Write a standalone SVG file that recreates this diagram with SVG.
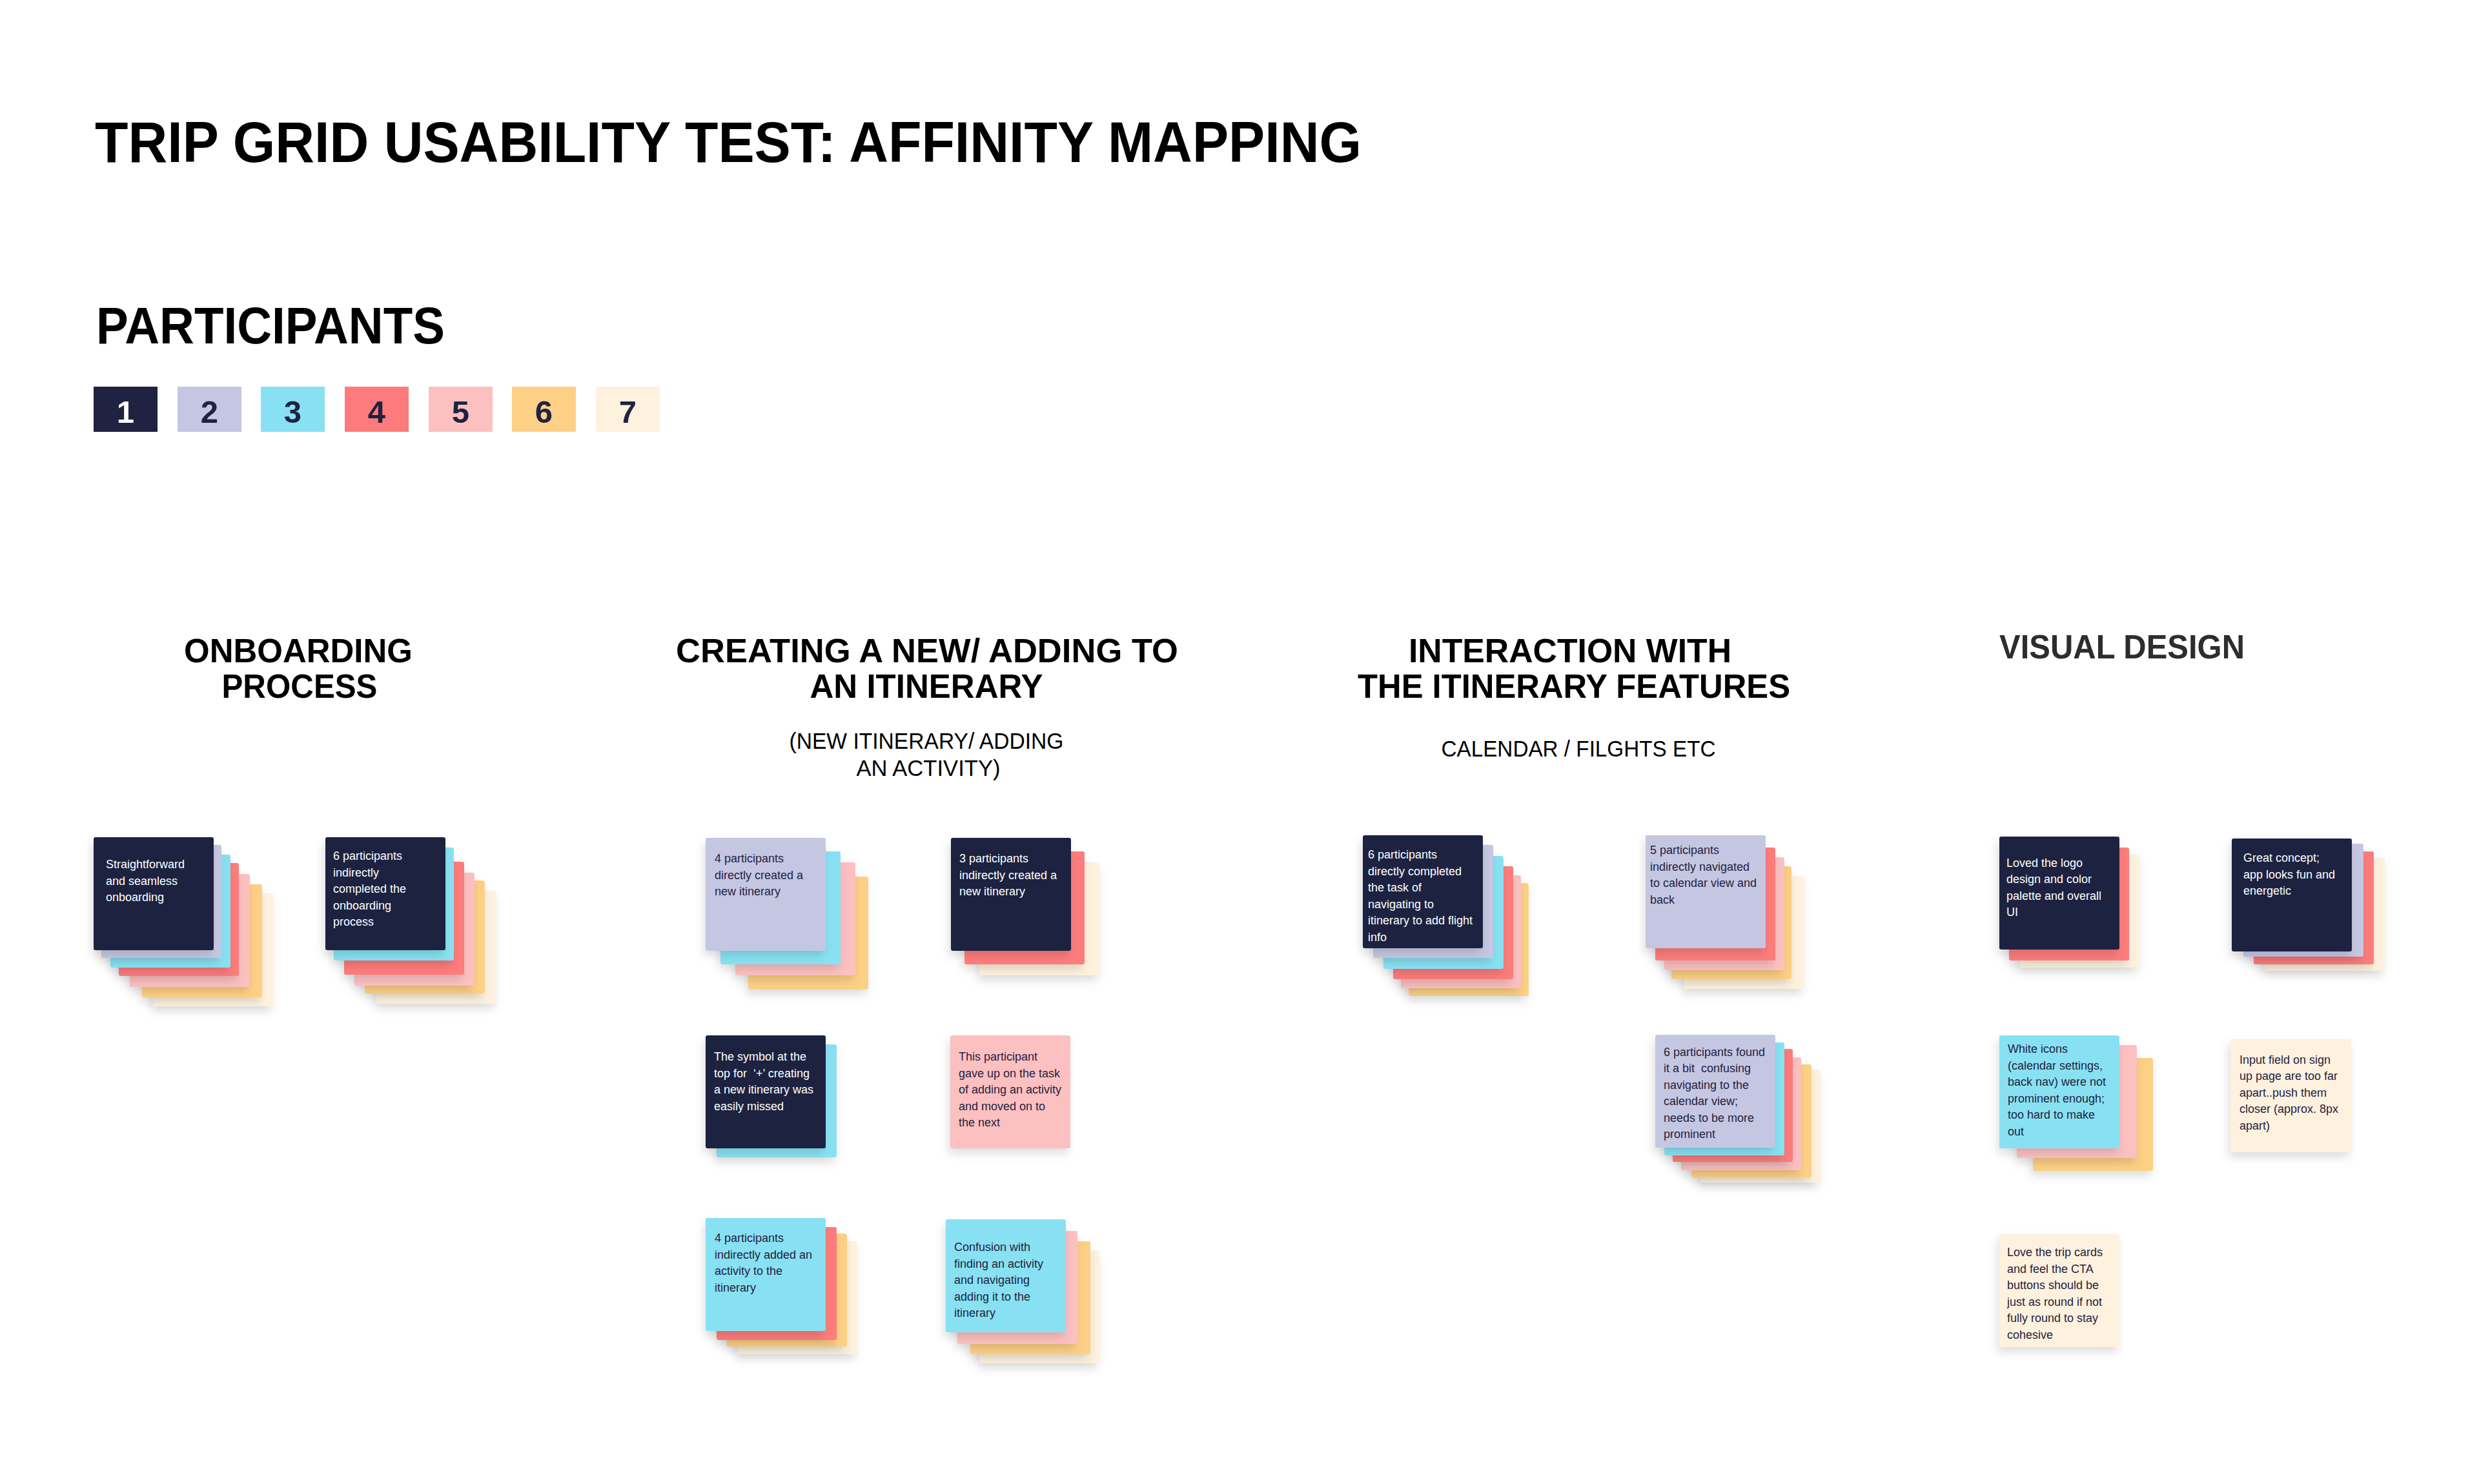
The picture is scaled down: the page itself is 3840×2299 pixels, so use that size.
<svg xmlns="http://www.w3.org/2000/svg" width="3840" height="2299" viewBox="0 0 3840 2299">
<defs>
<filter id="sh" x="-20%" y="-20%" width="150%" height="160%">
<feDropShadow dx="-3" dy="8" stdDeviation="7" flood-color="#000" flood-opacity="0.13"/>
</filter>
<style>
text{font-family:"Liberation Sans",Arial,sans-serif}
.title{font-size:89px;font-weight:700;fill:#000}
.h{font-size:52px;font-weight:700;fill:#000;text-anchor:middle}
.sub{font-size:35px;fill:#000;text-anchor:middle}
.leg{font-size:49px;font-weight:700;text-anchor:middle}
.n{font-size:18px}
.w{fill:#fff}
.d{fill:#1f2240}
.k{filter:url(#sh)}
.c1{fill:#1f2240}
.c2{fill:#c5c7e2}
.c3{fill:#88e1f2}
.c4{fill:#fd7b7c}
.c5{fill:#fcc0c1}
.c6{fill:#fdd085}
.c7{fill:#fef1de}
</style>
</defs>
<rect width="3840" height="2299" fill="#fff"/>

<g id="title">
<text class="title" x="147" y="251" textLength="1962" lengthAdjust="spacingAndGlyphs">TRIP GRID USABILITY TEST: AFFINITY MAPPING</text>
<text class="title" x="149" y="532" style="font-size:79px" textLength="540" lengthAdjust="spacingAndGlyphs">PARTICIPANTS</text>
</g>

<g id="legend">
<rect class="c1" x="145" y="599" width="99" height="70"/><text class="leg w" x="194.5" y="655">1</text>
<rect class="c2" x="275" y="599" width="99" height="70"/><text class="leg d" x="324.5" y="655">2</text>
<rect class="c3" x="404" y="599" width="99" height="70"/><text class="leg d" x="453.5" y="655">3</text>
<rect class="c4" x="534" y="599" width="99" height="70"/><text class="leg d" x="583.5" y="655">4</text>
<rect class="c5" x="664" y="599" width="99" height="70"/><text class="leg d" x="713.5" y="655">5</text>
<rect class="c6" x="793" y="599" width="99" height="70"/><text class="leg d" x="842.5" y="655">6</text>
<rect class="c7" x="923" y="599" width="99" height="70"/><text class="leg d" x="972.5" y="655">7</text>
</g>

<g id="headings">
<text class="h" x="462" y="1026" textLength="354" lengthAdjust="spacingAndGlyphs">ONBOARDING</text>
<text class="h" x="464" y="1081" textLength="241" lengthAdjust="spacingAndGlyphs">PROCESS</text>
<text class="h" x="1436" y="1026" textLength="778" lengthAdjust="spacingAndGlyphs">CREATING A NEW/ ADDING TO</text>
<text class="h" x="1435" y="1081" textLength="361" lengthAdjust="spacingAndGlyphs">AN ITINERARY</text>
<text class="sub" x="1435" y="1160" textLength="425" lengthAdjust="spacingAndGlyphs">(NEW ITINERARY/ ADDING</text>
<text class="sub" x="1438" y="1202" textLength="223" lengthAdjust="spacingAndGlyphs">AN ACTIVITY)</text>
<text class="h" x="2432" y="1026" textLength="500" lengthAdjust="spacingAndGlyphs">INTERACTION WITH</text>
<text class="h" x="2438" y="1081" textLength="670" lengthAdjust="spacingAndGlyphs">THE ITINERARY FEATURES</text>
<text class="sub" x="2445" y="1172" textLength="425" lengthAdjust="spacingAndGlyphs">CALENDAR / FILGHTS ETC</text>
<text class="h" x="3287" y="1020" style="fill:#2d2d2d" textLength="380" lengthAdjust="spacingAndGlyphs">VISUAL DESIGN</text>
</g>

<g id="connectors"/>

<g id="onboarding-straightforward">
<rect class="k c7" x="237" y="1384" width="186" height="175" rx="3"/>
<rect class="k c6" x="220" y="1370" width="186" height="175" rx="3"/>
<rect class="k c5" x="201" y="1354" width="186" height="175" rx="3"/>
<rect class="k c4" x="184" y="1337" width="186" height="175" rx="3"/>
<rect class="k c3" x="171" y="1324" width="186" height="175" rx="3"/>
<rect class="k c2" x="157" y="1309" width="186" height="175" rx="3"/>
<rect class="k c1" x="145" y="1297" width="186" height="175" rx="3"/>
<text class="n w" x="164" y="1345"><tspan x="164">Straightforward</tspan><tspan x="164" dy="25.5">and seamless</tspan><tspan x="164" dy="25.5">onboarding</tspan></text>
</g>

<g id="onboarding-indirect">
<rect class="k c7" x="583" y="1380" width="186" height="175" rx="3"/>
<rect class="k c6" x="565" y="1364" width="186" height="175" rx="3"/>
<rect class="k c5" x="549" y="1352" width="186" height="175" rx="3"/>
<rect class="k c4" x="533" y="1335" width="186" height="175" rx="3"/>
<rect class="k c3" x="517" y="1313" width="186" height="175" rx="3"/>
<rect class="k c1" x="504" y="1297" width="186" height="175" rx="3"/>
<text class="n w" x="516" y="1332"><tspan x="516">6 participants</tspan><tspan x="516" dy="25.5">indirectly</tspan><tspan x="516" dy="25.5">completed the</tspan><tspan x="516" dy="25.5">onboarding</tspan><tspan x="516" dy="25.5">process</tspan></text>
</g>

<g id="create-direct">
<rect class="k c6" x="1159" y="1358" width="186" height="175" rx="3"/>
<rect class="k c5" x="1139" y="1336" width="186" height="175" rx="3"/>
<rect class="k c3" x="1116" y="1319" width="186" height="175" rx="3"/>
<rect class="k c2" x="1093" y="1298" width="186" height="175" rx="3"/>
<text class="n d" x="1107" y="1336"><tspan x="1107">4 participants</tspan><tspan x="1107" dy="25.5">directly created a</tspan><tspan x="1107" dy="25.5">new itinerary</tspan></text>
</g>

<g id="create-indirect">
<rect class="k c7" x="1517" y="1336" width="186" height="175" rx="3"/>
<rect class="k c4" x="1494" y="1319" width="186" height="175" rx="3"/>
<rect class="k c1" x="1473" y="1298" width="186" height="175" rx="3"/>
<text class="n w" x="1486" y="1336"><tspan x="1486">3 participants</tspan><tspan x="1486" dy="25.5">indirectly created a</tspan><tspan x="1486" dy="25.5">new itinerary</tspan></text>
</g>

<g id="create-symbol">
<rect class="k c3" x="1110" y="1618" width="186" height="175" rx="3"/>
<rect class="k c1" x="1093" y="1604" width="186" height="175" rx="3"/>
<text class="n w" x="1106" y="1643" xml:space="preserve"><tspan x="1106">The symbol at the</tspan><tspan x="1106" dy="25.5">top for  ‘+’ creating</tspan><tspan x="1106" dy="25.5">a new itinerary was</tspan><tspan x="1106" dy="25.5">easily missed</tspan></text>
</g>

<g id="create-gaveup">
<rect class="k c5" x="1472" y="1604" width="186" height="175" rx="3"/>
<text class="n d" x="1485" y="1643"><tspan x="1485">This participant</tspan><tspan x="1485" dy="25.5">gave up on the task</tspan><tspan x="1485" dy="25.5">of adding an activity</tspan><tspan x="1485" dy="25.5">and moved on to</tspan><tspan x="1485" dy="25.5">the next</tspan></text>
</g>

<g id="create-activity-indirect">
<rect class="k c7" x="1142" y="1923" width="186" height="175" rx="3"/>
<rect class="k c6" x="1126" y="1911" width="186" height="175" rx="3"/>
<rect class="k c4" x="1110" y="1901" width="186" height="175" rx="3"/>
<rect class="k c3" x="1093" y="1887" width="186" height="175" rx="3"/>
<text class="n d" x="1107" y="1924"><tspan x="1107">4 participants</tspan><tspan x="1107" dy="25.5">indirectly added an</tspan><tspan x="1107" dy="25.5">activity to the</tspan><tspan x="1107" dy="25.5">itinerary</tspan></text>
</g>

<g id="create-confusion">
<rect class="k c7" x="1517" y="1937" width="186" height="175" rx="3"/>
<rect class="k c6" x="1503" y="1923" width="186" height="175" rx="3"/>
<rect class="k c5" x="1483" y="1907" width="186" height="175" rx="3"/>
<rect class="k c3" x="1465" y="1889" width="186" height="175" rx="3"/>
<text class="n d" x="1478" y="1938"><tspan x="1478">Confusion with</tspan><tspan x="1478" dy="25.5">finding an activity</tspan><tspan x="1478" dy="25.5">and navigating</tspan><tspan x="1478" dy="25.5">adding it to the</tspan><tspan x="1478" dy="25.5">itinerary</tspan></text>
</g>

<g id="interact-flight">
<rect class="k c6" x="2182" y="1368" width="186" height="175" rx="3"/>
<rect class="k c5" x="2170" y="1356" width="186" height="175" rx="3"/>
<rect class="k c4" x="2158" y="1342" width="186" height="175" rx="3"/>
<rect class="k c3" x="2143" y="1326" width="186" height="175" rx="3"/>
<rect class="k c2" x="2127" y="1309" width="186" height="175" rx="3"/>
<rect class="k c1" x="2111" y="1294" width="186" height="175" rx="3"/>
<text class="n w" x="2119" y="1330"><tspan x="2119">6 participants</tspan><tspan x="2119" dy="25.5">directly completed</tspan><tspan x="2119" dy="25.5">the task of</tspan><tspan x="2119" dy="25.5">navigating to</tspan><tspan x="2119" dy="25.5">itinerary to add flight</tspan><tspan x="2119" dy="25.5">info</tspan></text>
</g>

<g id="interact-calendar">
<rect class="k c7" x="2608" y="1357" width="186" height="175" rx="3"/>
<rect class="k c6" x="2589" y="1342" width="186" height="175" rx="3"/>
<rect class="k c5" x="2578" y="1328" width="186" height="175" rx="3"/>
<rect class="k c4" x="2564" y="1313" width="186" height="175" rx="3"/>
<rect class="k c2" x="2549" y="1294" width="186" height="175" rx="3"/>
<text class="n d" x="2556" y="1323"><tspan x="2556">5 participants</tspan><tspan x="2556" dy="25.5">indirectly navigated</tspan><tspan x="2556" dy="25.5">to calendar view and</tspan><tspan x="2556" dy="25.5">back</tspan></text>
</g>

<g id="interact-confusing">
<rect class="k c7" x="2634" y="1657" width="186" height="175" rx="3"/>
<rect class="k c6" x="2620" y="1649" width="186" height="175" rx="3"/>
<rect class="k c5" x="2604" y="1638" width="186" height="175" rx="3"/>
<rect class="k c4" x="2591" y="1625" width="186" height="175" rx="3"/>
<rect class="k c3" x="2578" y="1615" width="186" height="175" rx="3"/>
<rect class="k c2" x="2564" y="1603" width="186" height="175" rx="3"/>
<text class="n d" x="2577" y="1635.5" xml:space="preserve"><tspan x="2577">6 participants found</tspan><tspan x="2577" dy="25.5">it a bit  confusing</tspan><tspan x="2577" dy="25.5">navigating to the</tspan><tspan x="2577" dy="25.5">calendar view;</tspan><tspan x="2577" dy="25.5">needs to be more</tspan><tspan x="2577" dy="25.5">prominent</tspan></text>
</g>

<g id="visual-logo">
<rect class="k c7" x="3128" y="1324" width="186" height="175" rx="3"/>
<rect class="k c4" x="3112" y="1313" width="186" height="175" rx="3"/>
<rect class="k c1" x="3097" y="1296" width="186" height="175" rx="3"/>
<text class="n w" x="3108" y="1342.5"><tspan x="3108">Loved the logo</tspan><tspan x="3108" dy="25.5">design and color</tspan><tspan x="3108" dy="25.5">palette and overall</tspan><tspan x="3108" dy="25.5">UI</tspan></text>
</g>

<g id="visual-concept">
<rect class="k c7" x="3508" y="1329" width="186" height="175" rx="3"/>
<rect class="k c4" x="3491" y="1319" width="186" height="175" rx="3"/>
<rect class="k c2" x="3475" y="1307" width="186" height="175" rx="3"/>
<rect class="k c1" x="3457" y="1299" width="186" height="175" rx="3"/>
<text class="n w" x="3475" y="1335"><tspan x="3475">Great concept;</tspan><tspan x="3475" dy="25.5">app looks fun and</tspan><tspan x="3475" dy="25.5">energetic</tspan></text>
</g>

<g id="visual-icons">
<rect class="k c6" x="3149" y="1639" width="186" height="175" rx="3"/>
<rect class="k c5" x="3124" y="1619" width="186" height="175" rx="3"/>
<rect class="k c3" x="3097" y="1604" width="186" height="175" rx="3"/>
<text class="n d" x="3110" y="1631"><tspan x="3110">White icons</tspan><tspan x="3110" dy="25.5">(calendar settings,</tspan><tspan x="3110" dy="25.5">back nav) were not</tspan><tspan x="3110" dy="25.5">prominent enough;</tspan><tspan x="3110" dy="25.5">too hard to make</tspan><tspan x="3110" dy="25.5">out</tspan></text>
</g>

<g id="visual-input">
<rect class="k c7" x="3455" y="1610" width="187" height="175" rx="3"/>
<text class="n d" x="3469" y="1647.5"><tspan x="3469">Input field on sign</tspan><tspan x="3469" dy="25.5">up page are too far</tspan><tspan x="3469" dy="25.5">apart..push them</tspan><tspan x="3469" dy="25.5">closer (approx. 8px</tspan><tspan x="3469" dy="25.5">apart)</tspan></text>
</g>

<g id="visual-tripcards">
<rect class="k c7" x="3097" y="1912" width="186" height="175" rx="3"/>
<text class="n d" x="3109" y="1946"><tspan x="3109">Love the trip cards</tspan><tspan x="3109" dy="25.5">and feel the CTA</tspan><tspan x="3109" dy="25.5">buttons should be</tspan><tspan x="3109" dy="25.5">just as round if not</tspan><tspan x="3109" dy="25.5">fully round to stay</tspan><tspan x="3109" dy="25.5">cohesive</tspan></text>
</g>
</svg>
